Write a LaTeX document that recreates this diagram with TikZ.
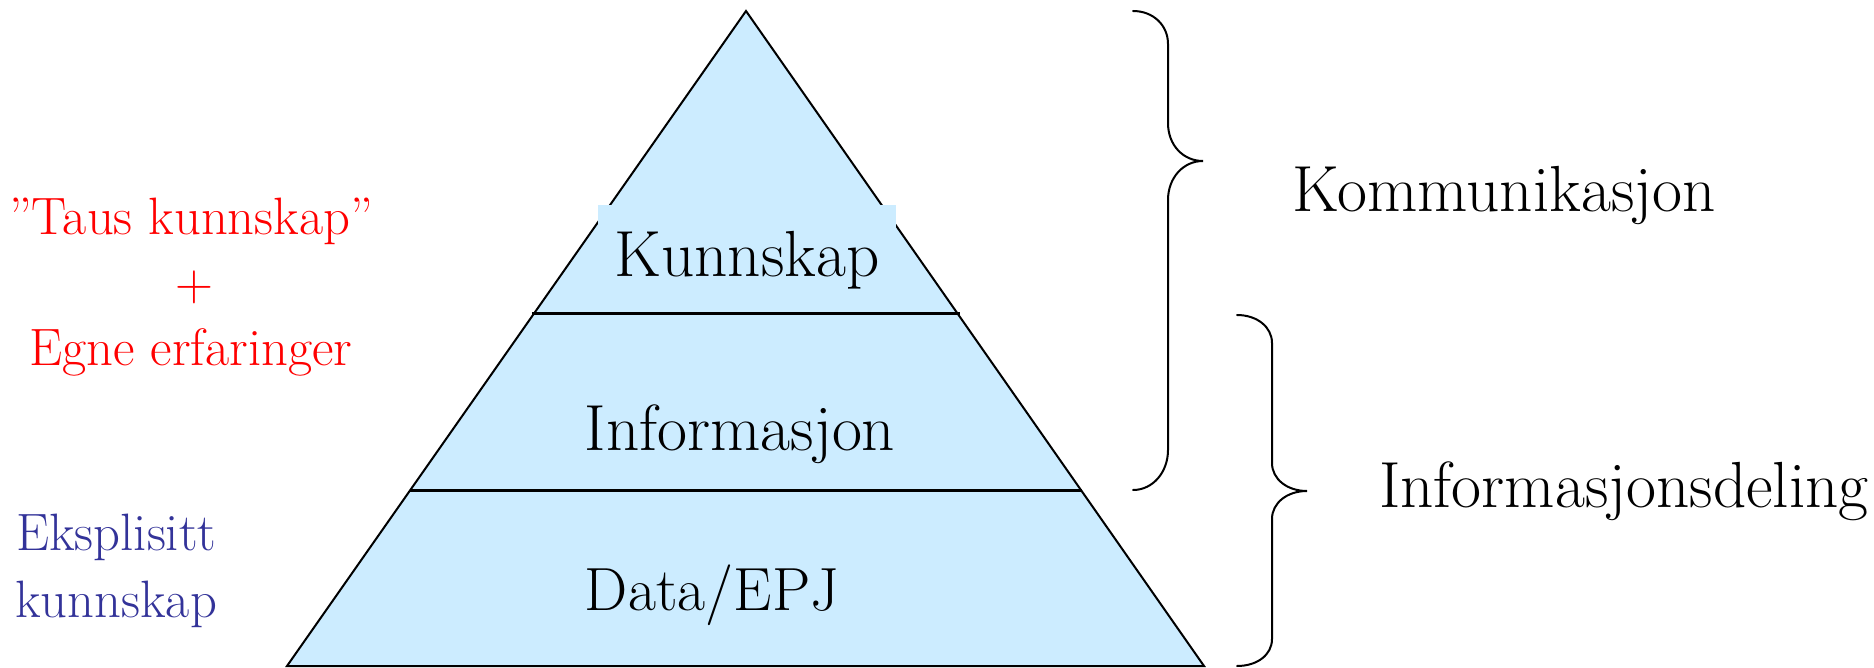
\documentclass[tikz,border=0pt]{standalone}
\usepackage{fontspec}
\definecolor{pyrfill}{HTML}{CCECFF}
\definecolor{expblue}{HTML}{333399}
\definecolor{tacitred}{HTML}{FF0000}
\begin{document}
\begin{tikzpicture}[x=0.5pt,y=-0.5pt,
  mainlbl/.style={font=\fontsize{32.6}{39}\selectfont, text=black, inner sep=0pt, anchor=base},
  sidelbl/.style={font=\fontsize{26.3}{32}\selectfont, inner sep=0pt, anchor=base},
  edge/.style={line width=1pt, line join=miter},
  layerline/.style={line width=1.5pt},
  bracepath/.style={line width=1pt, line cap=round}]
\useasboundingbox (0,0) rectangle (1874,668);
% pyramid
\coordinate (apex) at (746,11);
\coordinate (bl) at (287,666);
\coordinate (br) at (1204,666);
\fill[pyrfill] (apex) -- (br) -- (bl) -- cycle;
\draw[edge] (apex) -- (br) -- (bl) -- cycle;
% Kunnskap label box covering the edges
\node[fill=pyrfill, minimum width=149pt, minimum height=48pt, inner sep=0pt] (kbox) at (747,253) {};
\node[mainlbl] (kunn) at (747,277) {Kunnskap};
% layer lines
\coordinate (l1a) at (532,314);
\coordinate (l1b) at (960,314);
\coordinate (l2a) at (410,490);
\coordinate (l2b) at (1082,490);
\draw[layerline] (l1a) -- (l1b);
\draw[layerline] (l2a) -- (l2b);
\node[mainlbl] (info) at (740,450) {Informasjon};
\node[mainlbl, font=\fontsize{30.5}{36}\selectfont] (data) at (712,610) {Data/EPJ};
% braces
\draw[bracepath] (1133,11) .. controls (1153,11) and (1168,25) .. (1168,44) -- (1168,123)
  .. controls (1168,145) and (1183,161) .. (1203,161)
  .. controls (1183,161) and (1168,178) .. (1168,200) -- (1168,450)
  .. controls (1168,472) and (1153,490) .. (1133,490);
\draw[bracepath] (1237,315) .. controls (1257,315) and (1272,327) .. (1272,343) -- (1272,463)
  .. controls (1272,479) and (1287,491) .. (1307,491)
  .. controls (1287,491) and (1272,503) .. (1272,519) -- (1272,639)
  .. controls (1272,655) and (1257,666) .. (1237,666);
\node[mainlbl] (komm) at (1504,212) {Kommunikasjon};
\node[mainlbl] (infodel) at (1624,507) {Informasjonsdeling};
% left labels
\node[sidelbl, text=tacitred] (taus) at (191,235) {”Taus kunnskap”};
\node[sidelbl, text=tacitred] (plus) at (194,300) {+};
\node[sidelbl, text=tacitred] (egne) at (191,365) {Egne erfaringer};
\node[sidelbl, text=expblue, anchor=base west] (eks) at (16,550) {Eksplisitt};
\node[sidelbl, text=expblue, anchor=base west] (kunn2) at (15,617) {kunnskap};
\end{tikzpicture}
\end{document}
